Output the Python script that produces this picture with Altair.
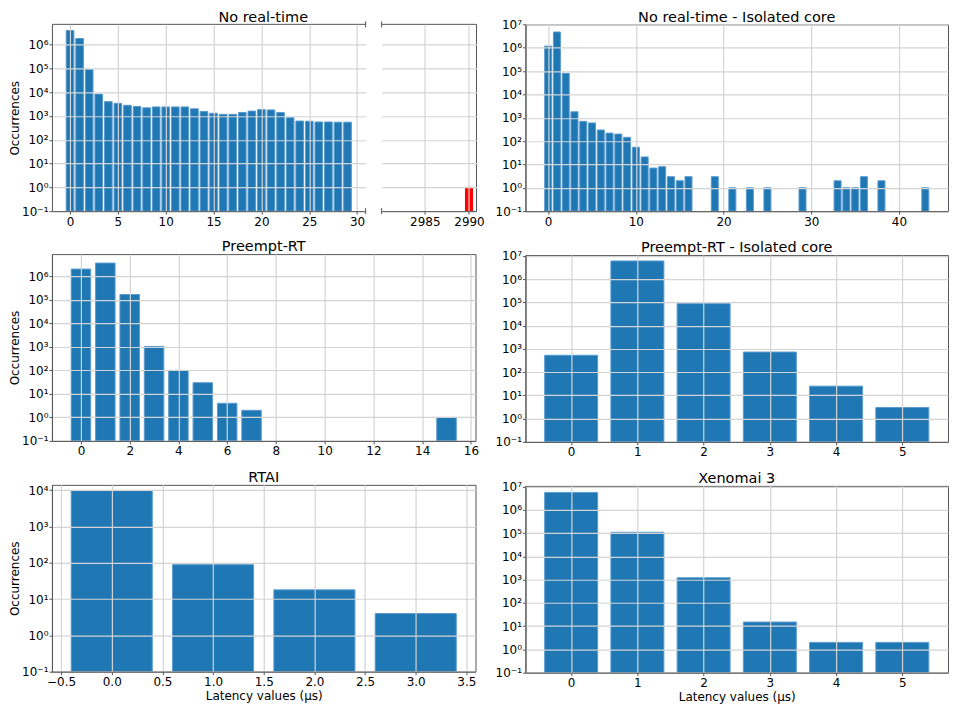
import math
import altair as alt
import pandas as pd

# ---------------- data ----------------
nrt_x = list(range(30)) + [2990]
nrt_y = [3.9e6, 1.8e6, 8.9e4, 8.3e3, 4.0e3, 3.4e3, 2.8e3, 2.5e3, 2.2e3, 2.4e3,
         2.4e3, 2.4e3, 2.4e3, 2.0e3, 1.55e3, 1.3e3, 1.17e3, 1.17e3, 1.4e3, 1.6e3,
         1.85e3, 1.8e3, 1.4e3, 850, 610, 600, 560, 560, 550, 550, 1]
nrt_kind = ["normal"] * 30 + ["outlier"]

nrt_iso_x = list(range(17)) + [19, 21, 23, 25, 29, 33, 34, 35, 36, 38, 43]
nrt_iso_y = [1.17e6, 4.7e6, 8e4, 1.8e3, 700, 600, 300, 220, 200, 145, 55, 21, 7, 8, 3, 2, 3,
             3, 1, 1, 1, 1, 2, 1, 1, 3, 2, 1]

prt_x = [0, 1, 2, 3, 4, 5, 6, 7, 15]
prt_y = [2.05e6, 3.7e6, 1.7e5, 1.05e3, 100, 30, 4, 2, 1]

prt_iso_x = [0, 1, 2, 3, 4, 5]
prt_iso_y = [530, 6.0e6, 8.8e4, 730, 25, 3]

rtai_x = [0, 1, 2, 3]
rtai_y = [9.8e3, 89, 18, 4]

xeno_x = [0, 1, 2, 3, 4, 5]
xeno_y = [5.6e6, 1.08e5, 1.2e3, 15, 2, 2]

titles = ["No real-time", "No real-time - Isolated core", "Preempt-RT",
          "Preempt-RT - Isolated core", "RTAI", "Xenomai 3"]
y_title = "Occurrences"
x_title = "Latency values (µs)"

# ---------------- style ----------------
FONT = "DejaVu Sans"
BLUE = "#1f77b4"
RED = "#ff0000"
EDGE = "#5a9bd0"
SPINE = "#555555"
GRID = "#d4d4d4"
H = 187
WL = 424
WR = 423
W1A, W1B, GAP1 = 314, 95, 14

SUP = "['⁻¹','⁰','¹','²','³','⁴','⁵','⁶','⁷','⁸']"
YLABEL = "'10' + " + SUP + "[round(log(datum.value)/LN10)+1]"


def frame(x, y, kind=None):
    return pd.DataFrame({"x": x, "y": y, "kind": kind if kind else ["normal"] * len(x)})


def title_mark(text, cx):
    return alt.Chart(pd.DataFrame({"t": [text]})).mark_text(
        font=FONT, fontSize=14.5, baseline="alphabetic", align="center", color="black"
    ).encode(text="t:N", x=alt.value(cx), y=alt.value(-2.7))


def bars(df, xdom, xvals, xfmt, ytop, w, ytitle=None, xtitle=None, show_y=True):
    yvals = [10.0 ** k for k in range(-1, int(math.floor(ytop + 1e-9)) + 1)]
    xaxis = alt.Axis(values=xvals, format=xfmt, title=xtitle, grid=True, gridColor=GRID,
                     gridWidth=1.2, domainColor=SPINE, tickColor=SPINE, tickSize=3,
                     labelPadding=2, labelFontSize=12, labelFont=FONT, labelColor="black",
                     titleFontSize=12, titleFont=FONT, titleFontWeight="normal",
                     titleColor="black", titlePadding=3, zindex=1, labelFlush=False)
    if show_y:
        yaxis = alt.Axis(values=yvals, labelExpr=YLABEL, title=ytitle, grid=True,
                         gridColor=GRID, gridWidth=1.2, domainColor=SPINE, tickColor=SPINE,
                         tickSize=3, labelPadding=1, labelFontSize=12, labelFont=FONT,
                         labelColor="black", titleFontSize=12, titleFont=FONT,
                         titleFontWeight="normal", titleColor="black", titlePadding=0,
                         zindex=1, labelFlush=False)
    else:
        yaxis = alt.Axis(values=yvals, labels=False, ticks=False, domain=False, title=None,
                         grid=True, gridColor=GRID, gridWidth=1.2, zindex=1)
    return alt.Chart(df).transform_calculate(
        x0="datum.x - 0.4", x1="datum.x + 0.4"
    ).mark_bar(clip=True, strokeWidth=1).encode(
        x=alt.X("x0:Q", scale=alt.Scale(domain=xdom, nice=False, zero=False), axis=xaxis),
        x2="x1:Q",
        y=alt.Y("y:Q", scale=alt.Scale(type="log", domain=[0.1, 10 ** ytop], nice=False),
                axis=yaxis),
        y2=alt.value("height"),
        color=alt.Color("kind:N", scale=alt.Scale(domain=["normal", "outlier"],
                                                  range=[BLUE, RED]), legend=None),
        stroke=alt.Stroke("kind:N", scale=alt.Scale(domain=["normal", "outlier"],
                                                    range=[EDGE, RED]), legend=None),
    ).properties(width=w, height=H)


def rule(**enc):
    d = pd.DataFrame({"a": [0]})
    return alt.Chart(d).mark_rule(color=SPINE, strokeWidth=1).encode(**enc)


framed = alt.ViewBackground(stroke=SPINE, strokeWidth=1)


def panel(text, w, df, **kw):
    return alt.layer(bars(df, w=w, **kw), title_mark(text, w / 2)
                     ).properties(width=w, height=H, view=framed)


# Panel 1: broken axis
df1 = frame(nrt_x, nrt_y, nrt_kind)
p1a = alt.layer(
    bars(df1, [-1.89, 30.89], [0, 5, 10, 15, 20, 25, 30], "d", 6.85, W1A, ytitle=y_title),
    rule(x=alt.value(0), x2=alt.value(W1A), y=alt.value(0)),
    rule(x=alt.value(W1A), y=alt.value(-3), y2=alt.value(3)),
    rule(x=alt.value(W1A), y=alt.value(H - 3), y2=alt.value(H + 3)),
    title_mark(titles[0], (W1A + GAP1 + W1B) / 2),
).properties(width=W1A, height=H)
p1b = alt.layer(
    bars(df1, [2980.1, 2990.85], [2985, 2990], "d", 6.85, W1B, show_y=False),
    rule(x=alt.value(0), x2=alt.value(W1B), y=alt.value(0)),
    rule(x=alt.value(W1B), y=alt.value(0), y2=alt.value(H)),
    rule(x=alt.value(0), y=alt.value(-3), y2=alt.value(3)),
    rule(x=alt.value(0), y=alt.value(H - 3), y2=alt.value(H + 3)),
).properties(width=W1B, height=H)
p1 = alt.hconcat(p1a, p1b, spacing=GAP1)

p2 = panel(titles[1], WR, frame(nrt_iso_x, nrt_iso_y), xdom=[-2.59, 45.59],
           xvals=[0, 10, 20, 30, 40], xfmt="d", ytop=7.0)
p3 = panel(titles[2], WL, frame(prt_x, prt_y), xdom=[-1.19, 16.19],
           xvals=list(range(0, 17, 2)), xfmt="d", ytop=6.95, ytitle=y_title)
p4 = panel(titles[3], WR, frame(prt_iso_x, prt_iso_y), xdom=[-0.69, 5.69],
           xvals=[0, 1, 2, 3, 4, 5], xfmt="d", ytop=7.03)
p5 = panel(titles[4], WL, frame(rtai_x, rtai_y), xdom=[-0.59, 3.59],
           xvals=[-0.5, 0, 0.5, 1, 1.5, 2, 2.5, 3, 3.5], xfmt=".1f", ytop=4.15,
           ytitle=y_title, xtitle=x_title)
p6 = panel(titles[5], WR, frame(xeno_x, xeno_y), xdom=[-0.69, 5.69],
           xvals=[0, 1, 2, 3, 4, 5], xfmt="d", ytop=7.03, xtitle=x_title)

left = alt.vconcat(p1, p3, p5, spacing=11)
right = alt.vconcat(p2, p4, p6, spacing=11)

chart = alt.hconcat(left, right, spacing=10).properties(
    padding={"left": 0, "top": 0, "right": 0, "bottom": 0}
).configure(font=FONT).configure_view(strokeWidth=0)

chart.save("out.html", embed_options={"renderer": "svg", "actions": False})
